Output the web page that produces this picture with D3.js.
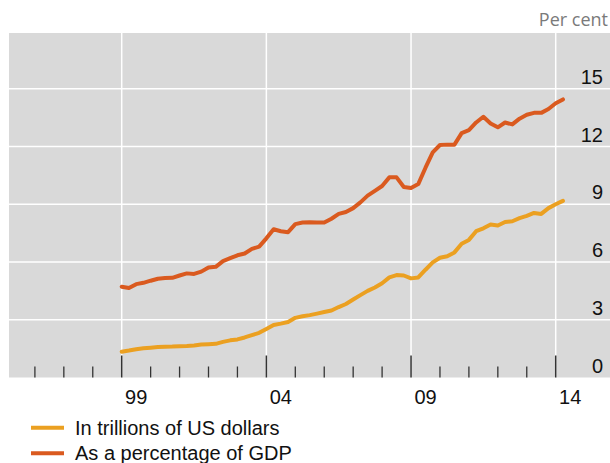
<!DOCTYPE html>
<html>
<head>
<meta charset="utf-8">
<script src="https://cdn.jsdelivr.net/npm/d3@7"></script>
<style>
  html, body { margin: 0; padding: 0; background: #fff; }
  svg { display: block; }
</style>
</head>
<body>
<svg id="chart" width="610" height="463"></svg>
<script>
"use strict";

// quarterly observations, starting 1999 Q1
const startYear = 1999;
const trillionsUSD = [
    1.34, 1.40, 1.47, 1.52, 1.55, 1.58, 1.60, 1.61, 1.63, 1.64,
    1.66, 1.71, 1.73, 1.75, 1.85, 1.93, 1.98, 2.08, 2.20, 2.32,
    2.52, 2.73, 2.80, 2.88, 3.10, 3.18, 3.24, 3.32, 3.40, 3.48,
    3.66, 3.82, 4.05, 4.28, 4.50, 4.68, 4.90, 5.20, 5.32, 5.30,
    5.15, 5.20, 5.60, 5.98, 6.22, 6.30, 6.50, 6.95, 7.15, 7.60,
    7.75, 7.95, 7.90, 8.08, 8.12, 8.28, 8.40, 8.55, 8.50, 8.80,
    9.00, 9.18
];
const percentGDP = [
    4.72, 4.65, 4.85, 4.92, 5.03, 5.13, 5.17, 5.18, 5.30, 5.41,
    5.38, 5.50, 5.72, 5.75, 6.05, 6.20, 6.35, 6.44, 6.68, 6.80,
    7.23, 7.70, 7.60, 7.55, 7.97, 8.05, 8.07, 8.06, 8.05, 8.25,
    8.50, 8.60, 8.80, 9.10, 9.45, 9.70, 9.95, 10.40, 10.40, 9.90,
    9.85, 10.05, 10.90, 11.70, 12.08, 12.10, 12.10, 12.70, 12.85, 13.25,
    13.55, 13.20, 13.00, 13.25, 13.15, 13.45, 13.65, 13.75, 13.75, 13.95,
    14.25, 14.45
];
const yTicks = [0, 3, 6, 9, 12, 15];
const majorYears = [1999, 2004, 2009, 2014];
const majorLabels = ["99", "04", "09", "14"];
const minorYears = d3.range(1996, 2015);
const seriesNames = ["In trillions of US dollars", "As a percentage of GDP"];
const seriesColors = ["#eba021", "#da5a1f"];

const svg = d3.select("#chart");
const plot = { left: 9, right: 610, top: 33, bottom: 377.5 };
const font = "'Liberation Sans', Arial, sans-serif";

const x = d3.scaleLinear().domain([1999, 2014]).range([121.7, 555.7]);
const y = d3.scaleLinear().domain([0, 17.9]).range([plot.bottom, plot.top]);

// background
svg.append("rect")
    .attr("x", plot.left).attr("y", plot.top)
    .attr("width", plot.right - plot.left)
    .attr("height", plot.bottom - plot.top)
    .attr("fill", "#d9d9d9");

// horizontal grid
svg.selectAll(".hgrid").data(yTicks.filter(d => d > 0)).enter()
    .append("line")
    .attr("class", "hgrid")
    .attr("x1", plot.left).attr("x2", plot.right)
    .attr("y1", d => y(d)).attr("y2", d => y(d))
    .attr("stroke", "#fff").attr("stroke-width", 1.5);

// vertical grid
svg.selectAll(".vgrid").data(majorYears).enter()
    .append("line")
    .attr("class", "vgrid")
    .attr("x1", d => x(d)).attr("x2", d => x(d))
    .attr("y1", plot.top).attr("y2", plot.bottom)
    .attr("stroke", "#fff").attr("stroke-width", 1.5);

// ticks along the bottom
svg.selectAll(".minor").data(minorYears.filter(d => majorYears.indexOf(d) < 0)).enter()
    .append("line")
    .attr("class", "minor")
    .attr("x1", d => x(d)).attr("x2", d => x(d))
    .attr("y1", plot.bottom - 11).attr("y2", plot.bottom)
    .attr("stroke", "#333").attr("stroke-width", 1.3);
svg.selectAll(".major").data(majorYears).enter()
    .append("line")
    .attr("class", "major")
    .attr("x1", d => x(d)).attr("x2", d => x(d))
    .attr("y1", plot.bottom - 22).attr("y2", plot.bottom)
    .attr("stroke", "#333").attr("stroke-width", 1.5);

// y labels, inside the plot on the right
svg.selectAll(".ylab").data(yTicks).enter()
    .append("text")
    .attr("class", "ylab")
    .attr("x", 603)
    .attr("y", d => y(d) - 5)
    .attr("text-anchor", "end")
    .style("font-family", font)
    .style("font-size", "20px")
    .style("fill", "#111")
    .text(d => d);

// x labels sit mid-year
svg.selectAll(".xlab").data(majorYears).enter()
    .append("text")
    .attr("class", "xlab")
    .attr("x", d => x(d + 0.5))
    .attr("y", 404)
    .attr("text-anchor", "middle")
    .style("font-family", font)
    .style("font-size", "20px")
    .style("fill", "#111")
    .text((d, i) => majorLabels[i]);

svg.append("text")
    .attr("x", 608).attr("y", 26)
    .attr("text-anchor", "end")
    .style("font-family", "'Open Sans', sans-serif")
    .style("font-size", "18px")
    .style("fill", "#7a7a7a")
    .text("Per cent");

// lines
const line = d3.line()
    .x((d, i) => x(startYear + i / 4))
    .y(d => y(d));
[trillionsUSD, percentGDP].forEach((s, k) => {
    svg.append("path")
        .datum(s)
        .attr("d", line)
        .attr("fill", "none")
        .attr("stroke", seriesColors[k])
        .attr("stroke-width", 4)
        .attr("stroke-linejoin", "round")
        .attr("stroke-linecap", "round");
});

// legend
const legend = svg.selectAll(".legend").data(seriesNames).enter()
    .append("g")
    .attr("class", "legend")
    .attr("transform", (d, i) => "translate(31," + (427.7 + i * 25.6) + ")");
legend.append("line")
    .attr("x1", 0).attr("x2", 33)
    .attr("stroke", (d, i) => seriesColors[i])
    .attr("stroke-width", 4);
legend.append("text")
    .attr("x", 44).attr("y", 7)
    .style("font-family", font)
    .style("font-size", "20px")
    .style("fill", "#111")
    .text(d => d);
</script>
</body>
</html>
